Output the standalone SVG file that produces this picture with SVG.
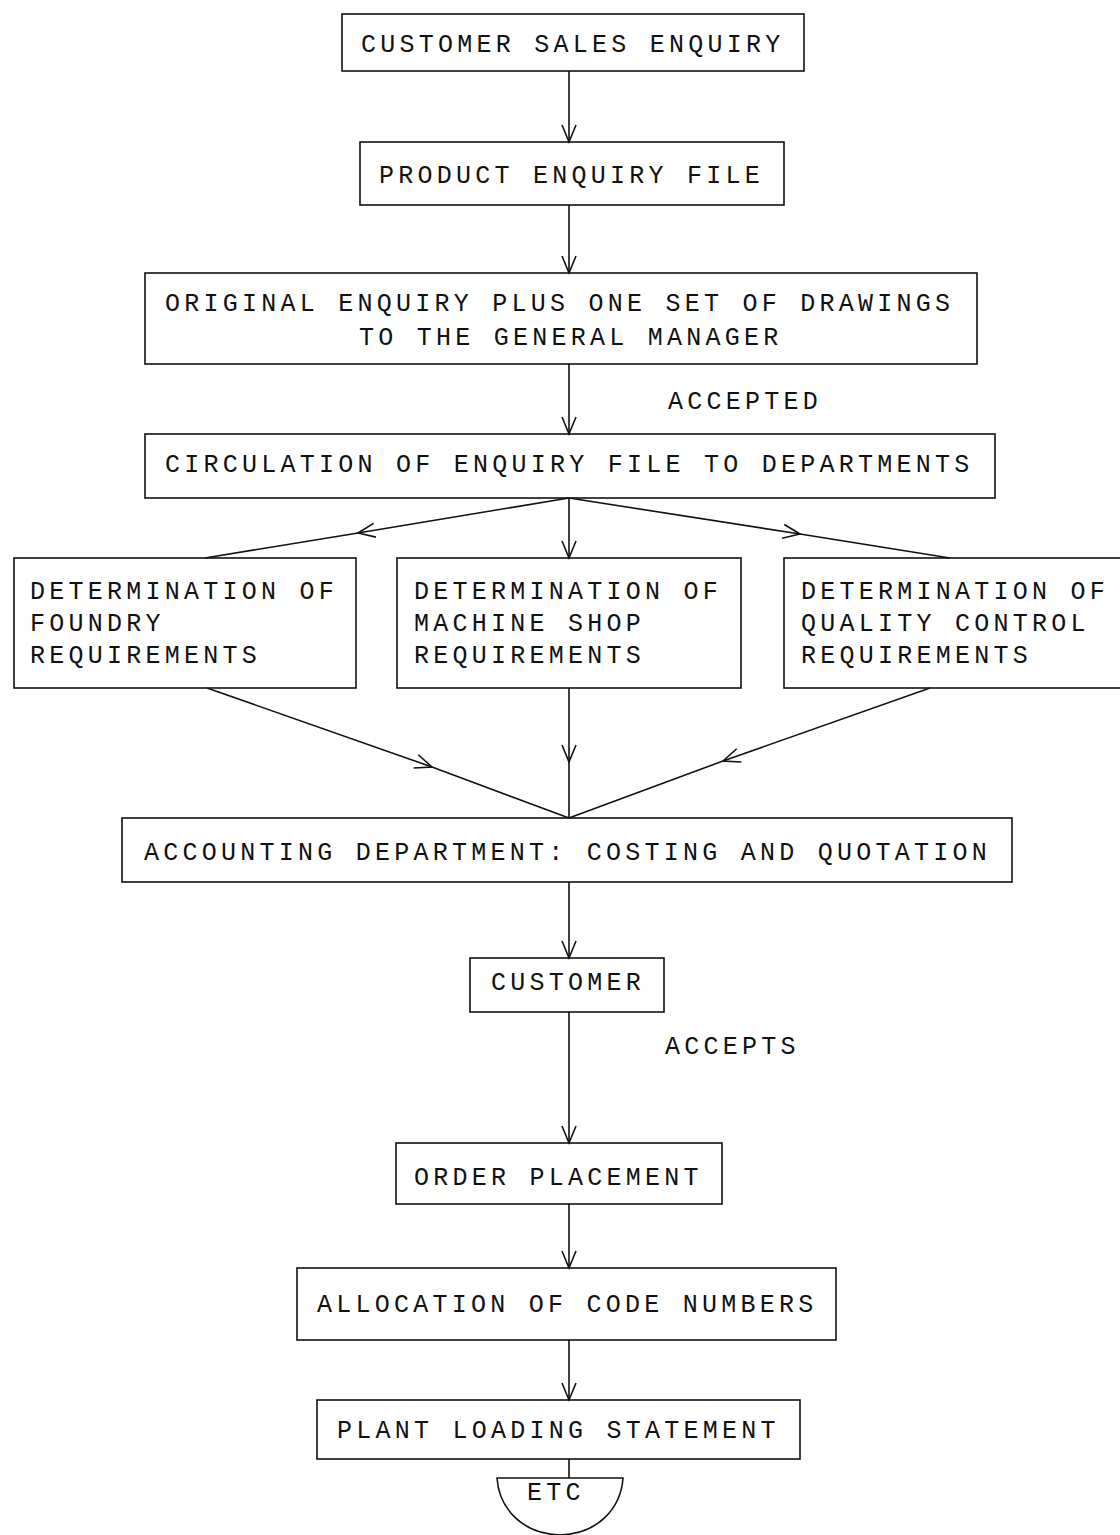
<svg xmlns="http://www.w3.org/2000/svg" width="1120" height="1535" viewBox="0 0 1120 1535">
<style>
.box{fill:none;stroke:#111;stroke-width:1.6}
.t{font-family:"Liberation Mono","DejaVu Sans Mono",monospace;font-size:25px;letter-spacing:4.25px;fill:#111}
.c{fill:none;stroke:#111;stroke-width:1.6}
</style>
<defs>
<marker id="ah" markerUnits="userSpaceOnUse" markerWidth="24" markerHeight="20" refX="0" refY="0" viewBox="-20 -10 24 20" orient="auto">
<path d="M-17,-7 L0,0 L-17,7" fill="none" stroke="#111" stroke-width="1.6"/>
</marker>
</defs>
<rect width="1120" height="1535" fill="#fff"/>
<g id="connectors">
<line class="c" x1="569" y1="71" x2="569" y2="142" marker-end="url(#ah)"/>
<line class="c" x1="569" y1="205" x2="569" y2="273" marker-end="url(#ah)"/>
<line class="c" x1="569" y1="364" x2="569" y2="434" marker-end="url(#ah)"/>
<line class="c" x1="569" y1="498" x2="358" y2="533" marker-end="url(#ah)"/>
<line class="c" x1="358" y1="533" x2="205" y2="558"/>
<line class="c" x1="569" y1="498" x2="569" y2="558" marker-end="url(#ah)"/>
<line class="c" x1="569" y1="498" x2="800" y2="534" marker-end="url(#ah)"/>
<line class="c" x1="800" y1="534" x2="950" y2="558"/>
<line class="c" x1="207" y1="688" x2="432" y2="767" marker-end="url(#ah)"/>
<line class="c" x1="432" y1="767" x2="569" y2="818"/>
<line class="c" x1="569" y1="688" x2="569" y2="762" marker-end="url(#ah)"/>
<line class="c" x1="569" y1="762" x2="569" y2="818"/>
<line class="c" x1="930" y1="688" x2="723" y2="761" marker-end="url(#ah)"/>
<line class="c" x1="723" y1="761" x2="569" y2="818"/>
<line class="c" x1="569" y1="882" x2="569" y2="958" marker-end="url(#ah)"/>
<line class="c" x1="569" y1="1012" x2="569" y2="1143" marker-end="url(#ah)"/>
<line class="c" x1="569" y1="1204" x2="569" y2="1268" marker-end="url(#ah)"/>
<line class="c" x1="569" y1="1340" x2="569" y2="1400" marker-end="url(#ah)"/>
<line class="c" x1="569" y1="1459" x2="569" y2="1478"/>
<text class="t" x="668" y="409">ACCEPTED</text>
<text class="t" x="665" y="1054">ACCEPTS</text>
</g>
<g id="n1"><rect class="box" x="342" y="14" width="462" height="57"/><text class="t" x="361" y="52">CUSTOMER SALES ENQUIRY</text></g>
<g id="n2"><rect class="box" x="360" y="142" width="424" height="63"/><text class="t" x="379" y="183">PRODUCT ENQUIRY FILE</text></g>
<g id="n3"><rect class="box" x="145" y="273" width="832" height="91"/><text class="t" x="165" y="311">ORIGINAL ENQUIRY PLUS ONE SET OF DRAWINGS</text><text class="t" x="359" y="345">TO THE GENERAL MANAGER</text></g>
<g id="n4"><rect class="box" x="145" y="434" width="850" height="64"/><text class="t" x="165" y="472">CIRCULATION OF ENQUIRY FILE TO DEPARTMENTS</text></g>
<g id="n5"><rect class="box" x="14" y="558" width="342" height="130"/><text class="t" x="30" y="599">DETERMINATION OF</text><text class="t" x="30" y="631">FOUNDRY</text><text class="t" x="30" y="663">REQUIREMENTS</text></g>
<g id="n6"><rect class="box" x="397" y="558" width="344" height="130"/><text class="t" x="414" y="599">DETERMINATION OF</text><text class="t" x="414" y="631">MACHINE SHOP</text><text class="t" x="414" y="663">REQUIREMENTS</text></g>
<g id="n7"><rect class="box" x="784" y="558" width="340" height="130"/><text class="t" x="801" y="599">DETERMINATION OF</text><text class="t" x="801" y="631">QUALITY CONTROL</text><text class="t" x="801" y="663">REQUIREMENTS</text></g>
<g id="n8"><rect class="box" x="122" y="818" width="890" height="64"/><text class="t" x="144" y="860">ACCOUNTING DEPARTMENT: COSTING AND QUOTATION</text></g>
<g id="n9"><rect class="box" x="470" y="958" width="194" height="54"/><text class="t" x="491" y="990">CUSTOMER</text></g>
<g id="n10"><rect class="box" x="396" y="1143" width="326" height="61"/><text class="t" x="414" y="1185">ORDER PLACEMENT</text></g>
<g id="n11"><rect class="box" x="297" y="1268" width="539" height="72"/><text class="t" x="317" y="1312">ALLOCATION OF CODE NUMBERS</text></g>
<g id="n12"><rect class="box" x="317" y="1400" width="483" height="59"/><text class="t" x="337" y="1438">PLANT LOADING STATEMENT</text></g>
<g id="n13"><path class="box" d="M497,1478 L623,1478 C621,1508 598,1534 560,1535 C522,1534 499,1508 497,1478 Z"/><text class="t" x="527" y="1500">ETC</text></g>
</svg>
